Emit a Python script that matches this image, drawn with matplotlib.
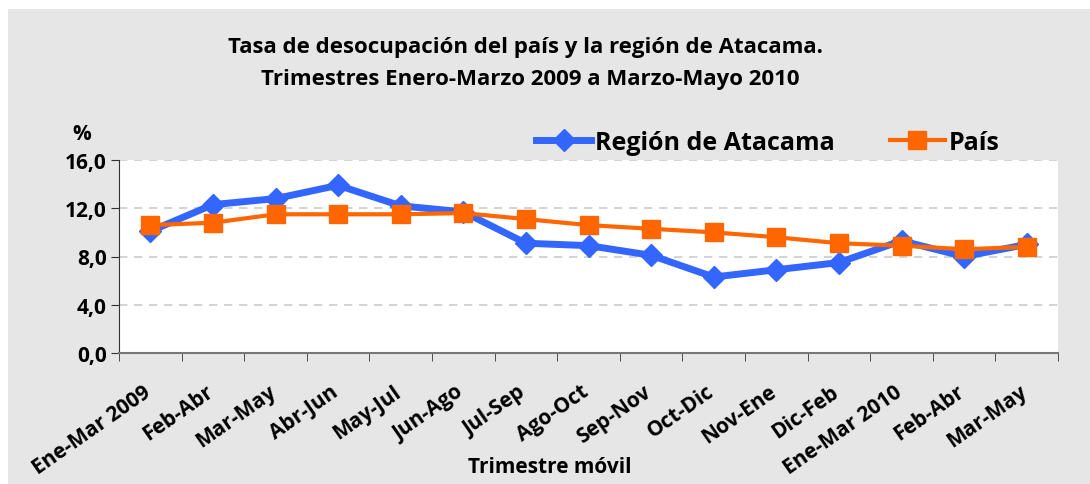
import matplotlib
matplotlib.use("Agg")
import matplotlib.pyplot as plt
from matplotlib.patches import Rectangle
from matplotlib.ticker import FuncFormatter, FixedLocator
from matplotlib.transforms import ScaledTranslation

categories = ["Ene-Mar 2009", "Feb-Abr", "Mar-May", "Abr-Jun", "May-Jul", "Jun-Ago",
              "Jul-Sep", "Ago-Oct", "Sep-Nov", "Oct-Dic", "Nov-Ene", "Dic-Feb",
              "Ene-Mar 2010", "Feb-Abr", "Mar-May"]
atacama = [10.1, 12.3, 12.8, 13.9, 12.2, 11.7, 9.1, 8.9, 8.1, 6.3, 6.9, 7.5, 9.3, 8.0, 9.0]
pais = [10.6, 10.8, 11.5, 11.5, 11.5, 11.6, 11.1, 10.6, 10.3, 10.0, 9.6, 9.1, 8.9, 8.6, 8.8]
yticks = [0, 4, 8, 12, 16]

plt.rcParams['font.family'] = ['Open Sans', 'DejaVu Sans']

fig = plt.figure(figsize=(10.9, 4.85), dpi=100)
fig.patch.set_facecolor("white")
fig.patches.append(Rectangle((8/1090, 0), 1 - 8/1090, 1 - 10/485, transform=fig.transFigure,
                             facecolor="#e6e6e6", edgecolor="none", zorder=-10))

ax = fig.add_axes([119/1090, 1 - 354/485, (1058 - 119)/1090, (354 - 161)/485])
ax.set_facecolor("white")

x = list(range(len(categories)))
ax.plot(x, atacama, color="#3366ff", lw=5, marker="D", ms=11, label="Región de Atacama",
        zorder=3, solid_joinstyle="miter")
ax.plot(x, pais, color="#ff6600", lw=3, marker="s", ms=13, label="País", zorder=4)

ax.set_xlim(-0.5, len(categories) - 0.5)
ax.set_ylim(0, 16)
ax.set_yticks(yticks)
ax.yaxis.set_major_formatter(FuncFormatter(lambda v, p: f"{v:.1f}".replace(".", ",")))
ax.grid(axis="y", color="#cccccc", ls=(0, (5, 4)), lw=1.2)
ax.set_axisbelow(True)

ax.set_xticks(x)
ax.set_xticklabels(categories, rotation=35, ha="right", rotation_mode="anchor",
                   fontsize=15, fontweight="bold")
ax.tick_params(axis="x", length=0, pad=20)
shift = ScaledTranslation(-8/100, 0, fig.dpi_scale_trans)
for lab in ax.get_xticklabels():
    lab.set_transform(lab.get_transform() + shift)
ax.xaxis.set_minor_locator(FixedLocator([i - 0.5 for i in range(len(categories) + 1)]))
ax.tick_params(axis="x", which="minor", length=6, color="#333333", direction="out")
ax.tick_params(axis="y", labelsize=15, length=6, color="#333333", pad=3)
for lab in ax.get_yticklabels():
    lab.set_fontweight("bold")

for s in ["top", "right"]:
    ax.spines[s].set_visible(False)
ax.spines["left"].set_color("#333333")
ax.spines["bottom"].set_color("#777777")
ax.spines["bottom"].set_linewidth(1.5)

fig.text(550/1090, 1 - 468/485, "Trimestre móvil", fontsize=15, fontweight="bold",
         ha="center", va="center")

fig.text(72/1090, 1 - 135/485, "%", fontsize=15, fontweight="bold", ha="left", va="center")
fig.text(525/1090, 1 - 47/485, "Tasa de desocupación del país y la región de Atacama.",
         fontsize=16, fontweight="bold", ha="center", va="center")
fig.text(530/1090, 1 - 79/485, "Trimestres Enero-Marzo 2009 a Marzo-Mayo 2010",
         fontsize=16, fontweight="bold", ha="center", va="center")

leg = fig.legend(loc="center", bbox_to_anchor=(768/1090, 1 - 143/485), ncol=2, frameon=False,
                 prop={"size": 18, "weight": "bold"}, handlelength=2.2, columnspacing=2.2,
                 handletextpad=0.15)

fig.savefig("out.png", dpi=100, facecolor=fig.get_facecolor())
